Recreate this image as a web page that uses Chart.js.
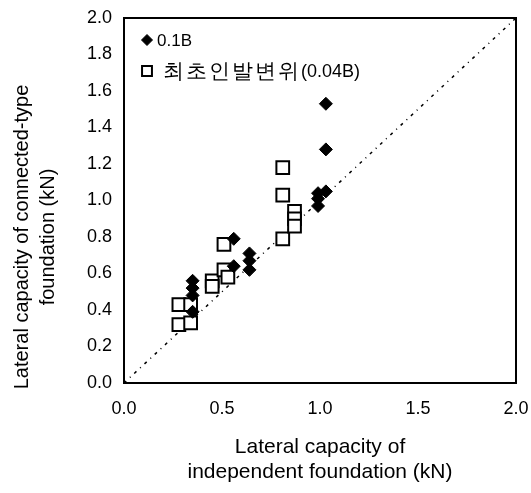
<!DOCTYPE html>
<html>
<head>
<meta charset="utf-8">
<script src="https://cdn.jsdelivr.net/npm/chart.js@4/dist/chart.umd.min.js"></script>
<style>
  html, body { margin: 0; padding: 0; background: #fff; }
  #wrap { width: 531px; height: 493px; }
</style>
</head>
<body>
<div id="wrap"><canvas id="chart" width="531" height="493"></canvas></div>
<script>
// ===== 데이터 =====
const seriesLabels = ['0.1B', '최초인발변위(0.04B)'];

// 0.1B (filled diamonds)
const x01B = [0.35, 0.35, 0.35, 0.35, 0.56, 0.56, 0.64, 0.64, 0.64, 0.99, 0.99, 0.99, 1.03, 1.03, 1.03];
const y01B = [0.56, 0.52, 0.48, 0.39, 0.79, 0.64, 0.71, 0.67, 0.62, 1.04, 1.01, 0.97, 1.53, 1.28, 1.05];

// 최초인발변위 (open squares)
const x004B = [0.28, 0.34, 0.28, 0.34, 0.45, 0.45, 0.51, 0.51, 0.53, 0.81, 0.81, 0.81, 0.87, 0.87, 0.87];
const y004B = [0.43, 0.43, 0.32, 0.33, 0.56, 0.53, 0.76, 0.62, 0.58, 1.18, 1.03, 0.79, 0.94, 0.90, 0.86];

// 1:1 line
const lineX = [0, 2];
const lineY = [0, 2];

const xTicks = [0, 0.5, 1.0, 1.5, 2.0];
const yTicks = [0, 0.2, 0.4, 0.6, 0.8, 1.0, 1.2, 1.4, 1.6, 1.8, 2.0];

const xTitle = ['Lateral capacity of', 'independent foundation (kN)'];
const yTitle = ['Lateral capacity of connected-type', 'foundation (kN)'];

const FONT = "'Liberation Sans', Arial, sans-serif";

function toPoints(xs, ys) {
  return xs.map((x, i) => ({ x: x, y: ys[i] }));
}

// 한글은 크게, 나머지는 보통 크기로
function drawMixed(ctx, text, x, y) {
  let cx = x;
  for (const ch of text) {
    const hangul = /[\uAC00-\uD7A3]/.test(ch);
    ctx.font = (hangul ? '21px ' : '18px ') + FONT;
    ctx.fillText(ch, cx, y);
    cx += hangul ? 23 : ctx.measureText(ch).width;
  }
}

// 차트 영역 안쪽 범례
const insideLegend = {
  id: 'insideLegend',
  afterDatasetsDraw(chart) {
    const ctx = chart.ctx;
    const area = chart.chartArea;
    ctx.save();
    ctx.textBaseline = 'middle';
    [0, 1].forEach((di, i) => {
      const ds = chart.data.datasets[di];
      const px = area.left + 23;
      const py = area.top + 22 + i * 31;
      ctx.fillStyle = ds.backgroundColor;
      ctx.strokeStyle = ds.borderColor;
      ctx.lineWidth = ds.borderWidth;
      Chart.helpers.drawPoint(ctx, { pointStyle: ds.pointStyle, radius: di === 0 ? 5.5 : 7, borderWidth: ds.borderWidth }, px, py);
      ctx.fillStyle = '#000';
      if (di === 0) {
        ctx.font = '17px ' + FONT;
        ctx.fillText(ds.label, px + 10, py + 1);
      } else {
        drawMixed(ctx, ds.label, px + 16, py + 1);
      }
    });
    ctx.restore();
  }
};

// y축 제목 (원본처럼 약간 아래쪽에 위치)
const yTitlePlugin = {
  id: 'yTitlePlugin',
  afterDraw(chart) {
    const ctx = chart.ctx;
    ctx.save();
    ctx.translate(0, 237);
    ctx.rotate(-Math.PI / 2);
    ctx.font = '20px ' + FONT;
    ctx.fillStyle = '#000';
    ctx.textAlign = 'center';
    ctx.textBaseline = 'middle';
    yTitle.forEach((line, i) => ctx.fillText(line, 0, 22 + i * 26));
    ctx.restore();
  }
};

// 테두리
const frame = {
  id: 'frame',
  afterDraw(chart) {
    const a = chart.chartArea;
    const ctx = chart.ctx;
    ctx.save();
    ctx.strokeStyle = '#000';
    ctx.lineWidth = 2;
    ctx.strokeRect(a.left, a.top, a.right - a.left, a.bottom - a.top);
    ctx.restore();
  }
};

new Chart(document.getElementById('chart'), {
  type: 'scatter',
  data: {
    datasets: [{
      label: seriesLabels[0],
      data: toPoints(x01B, y01B),
      pointStyle: 'rectRot',
      pointRadius: 6.5,
      backgroundColor: '#000',
      borderColor: '#000',
      borderWidth: 1,
      order: 1
    }, {
      label: seriesLabels[1],
      data: toPoints(x004B, y004B),
      pointStyle: 'rect',
      pointRadius: 9,
      backgroundColor: '#fff',
      borderColor: '#000',
      borderWidth: 2,
      order: 2
    }, {
      type: 'line',
      label: '1:1',
      data: toPoints(lineX, lineY),
      borderColor: '#000',
      borderWidth: 1.5,
      borderDash: [3, 5, 1, 5],
      pointRadius: 0,
      fill: false,
      order: 3
    }]
  },
  options: {
    responsive: false,
    animation: false,
    layout: { padding: { top: 18, right: 15, left: 0, bottom: 0 } },
    plugins: {
      legend: { display: false },
      tooltip: { enabled: false }
    },
    scales: {
      x: {
        type: 'linear',
        min: 0,
        max: 2,
        afterBuildTicks: (s) => { s.ticks = xTicks.map(v => ({ value: v })); },
        afterFit: (s) => { s.height = 110; s.paddingLeft = 0; s.paddingRight = 0; },
        grid: { display: false, drawTicks: false },
        border: { display: false },
        ticks: {
          color: '#000',
          padding: 15,
          font: { family: FONT, size: 18 },
          callback: (v) => v.toFixed(1)
        },
        title: {
          display: true,
          text: xTitle,
          color: '#000',
          font: { family: FONT, size: 21 },
          padding: { top: 0, bottom: 8 }
        }
      },
      y: {
        type: 'linear',
        min: 0,
        max: 2,
        afterBuildTicks: (s) => { s.ticks = yTicks.map(v => ({ value: v })); },
        afterFit: (s) => { s.width = 124; s.paddingTop = 0; s.paddingBottom = 0; },
        grid: { display: false, drawTicks: false },
        border: { display: false },
        ticks: {
          color: '#000',
          padding: 12,
          font: { family: FONT, size: 18 },
          callback: (v) => v.toFixed(1)
        },
        title: { display: false }
      }
    }
  },
  plugins: [insideLegend, yTitlePlugin, frame]
});
</script>
</body>
</html>
